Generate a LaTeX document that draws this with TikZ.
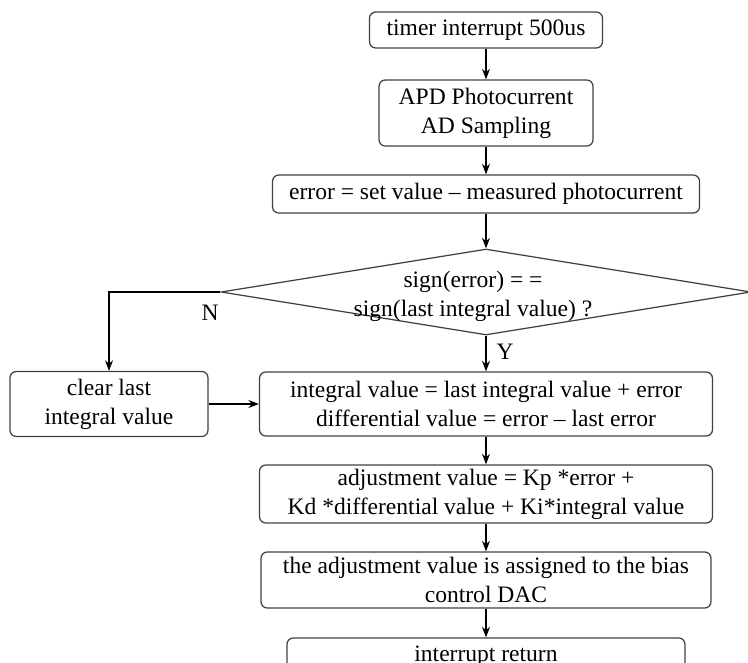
\documentclass[tikz,border=0pt]{standalone}
\usepackage{fontspec}
\setmainfont{Liberation Serif}
\usetikzlibrary{shapes.geometric,arrows.meta}

\begin{document}
\begin{tikzpicture}[x=0.02cm, y=-0.02cm, line width=0.7pt,
        font=\fontsize{13.4}{16.5}\selectfont,
        >={Stealth[length=6pt,width=4.5pt]},
        box/.style={draw=black!75, rounded corners=3.5pt, align=center, inner sep=0pt},
        decision/.style={draw=black!75, diamond, inner sep=0pt}]
        \useasboundingbox (0,0) rectangle (748,663);

        \node[box, minimum width=4.66cm, minimum height=0.72cm] (tmr) at (486, 30) {timer interrupt 500us};
        \node[box, minimum width=4.28cm, minimum height=1.32cm] (apd) at (486, 113) {APD Photocurrent\\AD Sampling};
        \node[box, minimum width=8.54cm, minimum height=0.76cm] (err) at (486, 194) {error = set value -- measured photocurrent};

        \node[decision, minimum width=10.6cm, minimum height=1.72cm] (dec) at (486, 292) {};
        \node[align=center, inner sep=0pt] (dectxt) at (473, 296) {sign(error) = =\\sign(last integral value) ?};

        \node[box, minimum width=3.96cm, minimum height=1.3cm] (clr) at (109, 404) {clear last\\integral value};
        \node[box, minimum width=9.06cm, minimum height=1.28cm] (intg) at (486, 404) {integral value = last integral value + error\\differential value = error -- last error};
        \node[box, minimum width=9.06cm, minimum height=1.16cm] (adj) at (486, 494) {adjustment value = Kp *error +\\Kd *differential value + Ki*integral value};
        \node[box, minimum width=9.0cm, minimum height=1.12cm] (dac) at (486, 580) {the adjustment value is assigned to the bias\\control DAC};
        \node[box, minimum width=7.96cm, minimum height=0.72cm] (ret) at (486, 656) {interrupt return};

        \draw[->] (tmr) -- (apd);
        \draw[->] (apd) -- (err);
        \draw[->] (err) -- (dec);
        \draw[->] (dec.south) -- (intg);
        \draw[->] (dec.west) -| (clr.north);
        \draw[->] (clr) -- (intg);
        \draw[->] (intg) -- (adj);
        \draw[->] (adj) -- (dac);
        \draw[->] (dac) -- (ret);

        \node (lbln) at (210, 313) {N};
        \node (lbly) at (505, 352) {Y};
    \end{tikzpicture}
\end{document}
